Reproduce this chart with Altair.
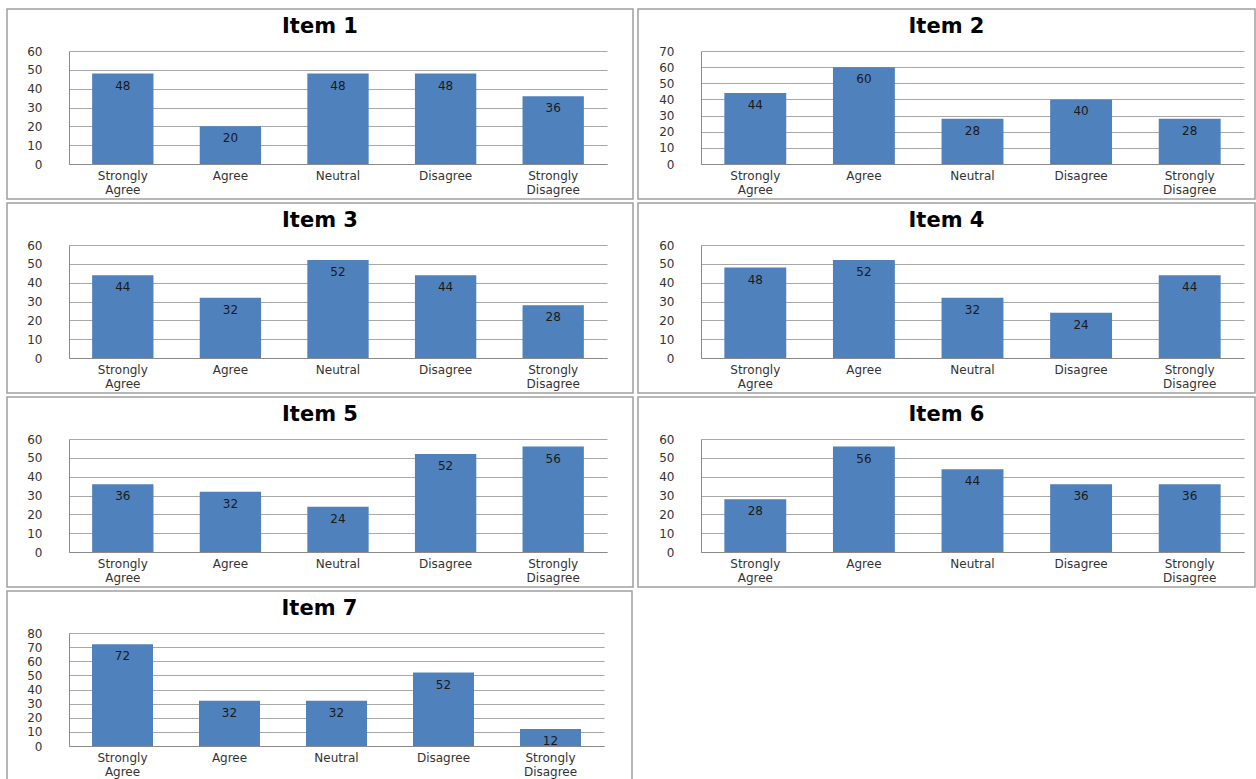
import altair as alt
import pandas as pd

categories = ["Strongly Agree", "Agree", "Neutral", "Disagree", "Strongly Disagree"]
items = ["Item 1", "Item 2", "Item 3", "Item 4", "Item 5", "Item 6", "Item 7"]
item1 = [48, 20, 48, 48, 36]
item2 = [44, 60, 28, 40, 28]
item3 = [44, 32, 52, 44, 28]
item4 = [48, 52, 32, 24, 44]
item5 = [36, 32, 24, 52, 56]
item6 = [28, 56, 44, 36, 36]
item7 = [72, 32, 32, 52, 12]
all_values = [item1, item2, item3, item4, item5, item6, item7]
y_max = [60, 70, 60, 60, 60, 60, 80]

BAR = "#4F81BD"
FONT = "DejaVu Sans"
GRID = "#a8a8a8"
AXIS = "#8a8a8a"
BORDER = "#a0a0a0"
H = 113
TOP = 42
BOTTOM = 35


def panel(i, plot_w, left_m, right_m):
    name = items[i]
    df = pd.DataFrame({"category": categories, "value": all_values[i]})
    ymax = y_max[i]

    x = alt.X(
        "category:N",
        sort=categories,
        title=None,
        scale=alt.Scale(domain=categories, paddingInner=0.43, paddingOuter=0.215),
        axis=alt.Axis(
            labelAngle=0,
            labelExpr="split(datum.label, ' ')",
            ticks=False,
            domainColor=AXIS,
            labelPadding=6,
            labelFontSize=12,
            labelLineHeight=14,
            labelColor="#333333",
            labelFont=FONT,
        ),
    )
    y = alt.Y(
        "value:Q",
        title=None,
        scale=alt.Scale(domain=[0, ymax], nice=False),
        axis=alt.Axis(
            values=list(range(0, ymax + 1, 10)),
            ticks=False,
            grid=True,
            gridColor=GRID,
            domainColor=AXIS,
            labelPadding=27,
            labelFontSize=12,
            labelColor="#333333",
            labelFont=FONT,
        ),
    )

    base = alt.Chart(df)
    bars = base.mark_bar(color=BAR).encode(x=x, y=y)
    labels = base.mark_text(
        baseline="middle", dy=12, fontSize=12, font=FONT, color="#1a1a1a"
    ).encode(x=x, y=y, text="value:Q")

    tdf = pd.DataFrame({"t": [name]})
    border = alt.Chart(tdf).mark_rect(
        fillOpacity=0, stroke=BORDER, strokeWidth=1.5
    ).encode(
        x=alt.value(-left_m),
        x2=alt.value(plot_w + right_m),
        y=alt.value(-TOP),
        y2=alt.value(H + BOTTOM),
    )
    title = alt.Chart(tdf).mark_text(
        fontSize=21, fontWeight="bold", font=FONT, color="#000000", baseline="middle"
    ).encode(
        x=alt.value((-left_m + plot_w + right_m) / 2),
        y=alt.value(-24),
        text="t:N",
    )
    return alt.layer(border, bars, labels, title).properties(width=plot_w, height=H)


def left(i):
    return panel(i, 538, 62, 26)


def right(i):
    return panel(i, 543, 63, 11)


chart = alt.vconcat(
    alt.hconcat(left(0), right(1), spacing=3),
    alt.hconcat(left(2), right(3), spacing=3),
    alt.hconcat(left(4), right(5), spacing=3),
    panel(6, 535, 62, 28),
    spacing=2,
).properties(
    padding={"left": 6, "top": 8, "right": 0, "bottom": 0},
    background="white",
).configure_view(stroke=None)

chart.save("out.html", embed_options={"renderer": "svg", "actions": False})
